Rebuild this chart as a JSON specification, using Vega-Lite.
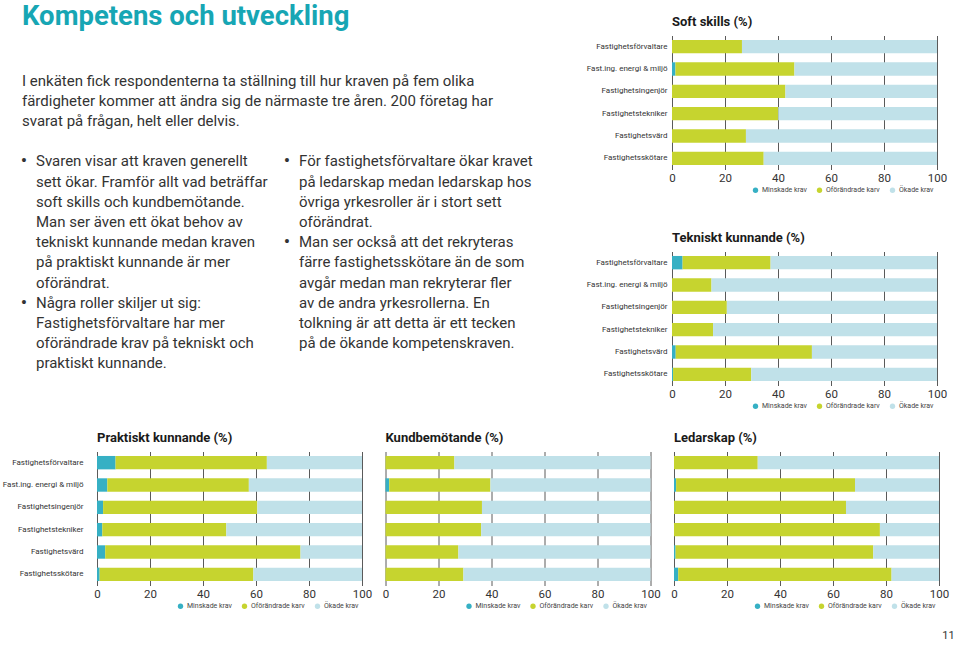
{
  "$schema": "https://vega.github.io/schema/vega-lite/v6.json",
  "padding": {"left": 2, "top": 2.5, "right": 0, "bottom": 0},
  "background": "white",
  "title": {"text": "11", "orient": "bottom", "anchor": "end", "frame": "bounds", "fontSize": 11, "fontWeight": "normal", "color": "#333333", "offset": 20, "dx": 6},
  "config": {
    "font": "Roboto",
    "view": {"stroke": null},
    "title": {"anchor": "start", "frame": "group", "fontSize": 13, "fontWeight": "bold", "color": "#1a1a1a", "offset": 7},
    "axisX": {"domain": false, "ticks": false, "grid": true, "gridColor": "#5a5a5a", "gridWidth": 1, "labelFontSize": 11.5, "labelColor": "#333333", "labelPadding": 3, "labelFlush": false, "title": null},
    "axisY": {"domain": false, "ticks": false, "grid": false, "labelFontSize": 8, "labelColor": "#333333", "title": null},
    "legend": {"direction": "horizontal", "title": null, "symbolType": "circle", "symbolSize": 28, "symbolStrokeWidth": 0, "labelFontSize": 7, "labelColor": "#444444", "columnPadding": 9, "labelOffset": 3, "padding": 0}
  },
  "datasets": {
    "bars": [
      {"c": "Soft skills", "r": "Fastighetsförvaltare", "k": "Minskade krav", "v": 0},
      {"c": "Soft skills", "r": "Fastighetsförvaltare", "k": "Oförändrade karv", "v": 26.4},
      {"c": "Soft skills", "r": "Fastighetsförvaltare", "k": "Ökade krav", "v": 73.6},
      {"c": "Soft skills", "r": "Fast.ing. energi & miljö", "k": "Minskade krav", "v": 1.3},
      {"c": "Soft skills", "r": "Fast.ing. energi & miljö", "k": "Oförändrade karv", "v": 44.9},
      {"c": "Soft skills", "r": "Fast.ing. energi & miljö", "k": "Ökade krav", "v": 53.8},
      {"c": "Soft skills", "r": "Fastighetsingenjör", "k": "Minskade krav", "v": 0},
      {"c": "Soft skills", "r": "Fastighetsingenjör", "k": "Oförändrade karv", "v": 42.8},
      {"c": "Soft skills", "r": "Fastighetsingenjör", "k": "Ökade krav", "v": 57.2},
      {"c": "Soft skills", "r": "Fastighetstekniker", "k": "Minskade krav", "v": 0},
      {"c": "Soft skills", "r": "Fastighetstekniker", "k": "Oförändrade karv", "v": 40.1},
      {"c": "Soft skills", "r": "Fastighetstekniker", "k": "Ökade krav", "v": 59.9},
      {"c": "Soft skills", "r": "Fastighetsvärd", "k": "Minskade krav", "v": 0},
      {"c": "Soft skills", "r": "Fastighetsvärd", "k": "Oförändrade karv", "v": 27.9},
      {"c": "Soft skills", "r": "Fastighetsvärd", "k": "Ökade krav", "v": 72.1},
      {"c": "Soft skills", "r": "Fastighetsskötare", "k": "Minskade krav", "v": 0},
      {"c": "Soft skills", "r": "Fastighetsskötare", "k": "Oförändrade karv", "v": 34.6},
      {"c": "Soft skills", "r": "Fastighetsskötare", "k": "Ökade krav", "v": 65.4},

      {"c": "Tekniskt", "r": "Fastighetsförvaltare", "k": "Minskade krav", "v": 4.0},
      {"c": "Tekniskt", "r": "Fastighetsförvaltare", "k": "Oförändrade karv", "v": 33.2},
      {"c": "Tekniskt", "r": "Fastighetsförvaltare", "k": "Ökade krav", "v": 62.8},
      {"c": "Tekniskt", "r": "Fast.ing. energi & miljö", "k": "Minskade krav", "v": 0},
      {"c": "Tekniskt", "r": "Fast.ing. energi & miljö", "k": "Oförändrade karv", "v": 14.9},
      {"c": "Tekniskt", "r": "Fast.ing. energi & miljö", "k": "Ökade krav", "v": 85.1},
      {"c": "Tekniskt", "r": "Fastighetsingenjör", "k": "Minskade krav", "v": 0},
      {"c": "Tekniskt", "r": "Fastighetsingenjör", "k": "Oförändrade karv", "v": 20.7},
      {"c": "Tekniskt", "r": "Fastighetsingenjör", "k": "Ökade krav", "v": 79.3},
      {"c": "Tekniskt", "r": "Fastighetstekniker", "k": "Minskade krav", "v": 0},
      {"c": "Tekniskt", "r": "Fastighetstekniker", "k": "Oförändrade karv", "v": 15.5},
      {"c": "Tekniskt", "r": "Fastighetstekniker", "k": "Ökade krav", "v": 84.5},
      {"c": "Tekniskt", "r": "Fastighetsvärd", "k": "Minskade krav", "v": 1.4},
      {"c": "Tekniskt", "r": "Fastighetsvärd", "k": "Oförändrade karv", "v": 51.4},
      {"c": "Tekniskt", "r": "Fastighetsvärd", "k": "Ökade krav", "v": 47.2},
      {"c": "Tekniskt", "r": "Fastighetsskötare", "k": "Minskade krav", "v": 0.4},
      {"c": "Tekniskt", "r": "Fastighetsskötare", "k": "Oförändrade karv", "v": 29.5},
      {"c": "Tekniskt", "r": "Fastighetsskötare", "k": "Ökade krav", "v": 70.1},

      {"c": "Praktiskt", "r": "Fastighetsförvaltare", "k": "Minskade krav", "v": 7.0},
      {"c": "Praktiskt", "r": "Fastighetsförvaltare", "k": "Oförändrade karv", "v": 57.1},
      {"c": "Praktiskt", "r": "Fastighetsförvaltare", "k": "Ökade krav", "v": 35.9},
      {"c": "Praktiskt", "r": "Fast.ing. energi & miljö", "k": "Minskade krav", "v": 3.9},
      {"c": "Praktiskt", "r": "Fast.ing. energi & miljö", "k": "Oförändrade karv", "v": 53.4},
      {"c": "Praktiskt", "r": "Fast.ing. energi & miljö", "k": "Ökade krav", "v": 42.7},
      {"c": "Praktiskt", "r": "Fastighetsingenjör", "k": "Minskade krav", "v": 2.3},
      {"c": "Praktiskt", "r": "Fastighetsingenjör", "k": "Oförändrade karv", "v": 58.2},
      {"c": "Praktiskt", "r": "Fastighetsingenjör", "k": "Ökade krav", "v": 39.5},
      {"c": "Praktiskt", "r": "Fastighetstekniker", "k": "Minskade krav", "v": 2.0},
      {"c": "Praktiskt", "r": "Fastighetstekniker", "k": "Oförändrade karv", "v": 46.8},
      {"c": "Praktiskt", "r": "Fastighetstekniker", "k": "Ökade krav", "v": 51.2},
      {"c": "Praktiskt", "r": "Fastighetsvärd", "k": "Minskade krav", "v": 3.1},
      {"c": "Praktiskt", "r": "Fastighetsvärd", "k": "Oförändrade karv", "v": 73.7},
      {"c": "Praktiskt", "r": "Fastighetsvärd", "k": "Ökade krav", "v": 23.2},
      {"c": "Praktiskt", "r": "Fastighetsskötare", "k": "Minskade krav", "v": 1.0},
      {"c": "Praktiskt", "r": "Fastighetsskötare", "k": "Oförändrade karv", "v": 58.0},
      {"c": "Praktiskt", "r": "Fastighetsskötare", "k": "Ökade krav", "v": 41.0},

      {"c": "Kund", "r": "Fastighetsförvaltare", "k": "Minskade krav", "v": 0},
      {"c": "Kund", "r": "Fastighetsförvaltare", "k": "Oförändrade karv", "v": 26.0},
      {"c": "Kund", "r": "Fastighetsförvaltare", "k": "Ökade krav", "v": 74.0},
      {"c": "Kund", "r": "Fast.ing. energi & miljö", "k": "Minskade krav", "v": 1.4},
      {"c": "Kund", "r": "Fast.ing. energi & miljö", "k": "Oförändrade karv", "v": 38.2},
      {"c": "Kund", "r": "Fast.ing. energi & miljö", "k": "Ökade krav", "v": 60.4},
      {"c": "Kund", "r": "Fastighetsingenjör", "k": "Minskade krav", "v": 0},
      {"c": "Kund", "r": "Fastighetsingenjör", "k": "Oförändrade karv", "v": 36.4},
      {"c": "Kund", "r": "Fastighetsingenjör", "k": "Ökade krav", "v": 63.6},
      {"c": "Kund", "r": "Fastighetstekniker", "k": "Minskade krav", "v": 0},
      {"c": "Kund", "r": "Fastighetstekniker", "k": "Oförändrade karv", "v": 36.1},
      {"c": "Kund", "r": "Fastighetstekniker", "k": "Ökade krav", "v": 63.9},
      {"c": "Kund", "r": "Fastighetsvärd", "k": "Minskade krav", "v": 0},
      {"c": "Kund", "r": "Fastighetsvärd", "k": "Oförändrade karv", "v": 27.5},
      {"c": "Kund", "r": "Fastighetsvärd", "k": "Ökade krav", "v": 72.5},
      {"c": "Kund", "r": "Fastighetsskötare", "k": "Minskade krav", "v": 0},
      {"c": "Kund", "r": "Fastighetsskötare", "k": "Oförändrade karv", "v": 29.4},
      {"c": "Kund", "r": "Fastighetsskötare", "k": "Ökade krav", "v": 70.6},

      {"c": "Ledarskap", "r": "Fastighetsförvaltare", "k": "Minskade krav", "v": 0},
      {"c": "Ledarskap", "r": "Fastighetsförvaltare", "k": "Oförändrade karv", "v": 31.6},
      {"c": "Ledarskap", "r": "Fastighetsförvaltare", "k": "Ökade krav", "v": 68.4},
      {"c": "Ledarskap", "r": "Fast.ing. energi & miljö", "k": "Minskade krav", "v": 0.8},
      {"c": "Ledarskap", "r": "Fast.ing. energi & miljö", "k": "Oförändrade karv", "v": 67.5},
      {"c": "Ledarskap", "r": "Fast.ing. energi & miljö", "k": "Ökade krav", "v": 31.7},
      {"c": "Ledarskap", "r": "Fastighetsingenjör", "k": "Minskade krav", "v": 0},
      {"c": "Ledarskap", "r": "Fastighetsingenjör", "k": "Oförändrade karv", "v": 64.9},
      {"c": "Ledarskap", "r": "Fastighetsingenjör", "k": "Ökade krav", "v": 35.1},
      {"c": "Ledarskap", "r": "Fastighetstekniker", "k": "Minskade krav", "v": 0},
      {"c": "Ledarskap", "r": "Fastighetstekniker", "k": "Oförändrade karv", "v": 77.7},
      {"c": "Ledarskap", "r": "Fastighetstekniker", "k": "Ökade krav", "v": 22.3},
      {"c": "Ledarskap", "r": "Fastighetsvärd", "k": "Minskade krav", "v": 0.6},
      {"c": "Ledarskap", "r": "Fastighetsvärd", "k": "Oförändrade karv", "v": 74.6},
      {"c": "Ledarskap", "r": "Fastighetsvärd", "k": "Ökade krav", "v": 24.8},
      {"c": "Ledarskap", "r": "Fastighetsskötare", "k": "Minskade krav", "v": 1.6},
      {"c": "Ledarskap", "r": "Fastighetsskötare", "k": "Oförändrade karv", "v": 80.5},
      {"c": "Ledarskap", "r": "Fastighetsskötare", "k": "Ökade krav", "v": 17.9}
    ],
    "text": [
      {"part": "title", "col": 0, "line": -3, "text": "Kompetens och utveckling"},
      {"part": "intro", "col": 0, "line": 0, "text": "I enkäten fick respondenterna ta ställning till hur kraven på fem olika"},
      {"part": "intro", "col": 0, "line": 1, "text": "färdigheter kommer att ändra sig de närmaste tre åren. 200 företag har"},
      {"part": "intro", "col": 0, "line": 2, "text": "svarat på frågan, helt eller delvis."},
      {"part": "bullet", "col": 0, "line": 4, "text": "•"},
      {"part": "bullet", "col": 0, "line": 11, "text": "•"},
      {"part": "bullet", "col": 1, "line": 4, "text": "•"},
      {"part": "bullet", "col": 1, "line": 8, "text": "•"},
      {"part": "body", "col": 0, "line": 4, "text": "Svaren visar att kraven generellt"},
      {"part": "body", "col": 0, "line": 5, "text": "sett ökar. Framför allt vad beträffar"},
      {"part": "body", "col": 0, "line": 6, "text": "soft skills och kundbemötande."},
      {"part": "body", "col": 0, "line": 7, "text": "Man ser även ett ökat behov av"},
      {"part": "body", "col": 0, "line": 8, "text": "tekniskt kunnande medan kraven"},
      {"part": "body", "col": 0, "line": 9, "text": "på praktiskt kunnande är mer"},
      {"part": "body", "col": 0, "line": 10, "text": "oförändrat."},
      {"part": "body", "col": 0, "line": 11, "text": "Några roller skiljer ut sig:"},
      {"part": "body", "col": 0, "line": 12, "text": "Fastighetsförvaltare har mer"},
      {"part": "body", "col": 0, "line": 13, "text": "oförändrade krav på tekniskt och"},
      {"part": "body", "col": 0, "line": 14, "text": "praktiskt kunnande."},
      {"part": "body", "col": 1, "line": 4, "text": "För fastighetsförvaltare ökar kravet"},
      {"part": "body", "col": 1, "line": 5, "text": "på ledarskap medan ledarskap hos"},
      {"part": "body", "col": 1, "line": 6, "text": "övriga yrkesroller är i stort sett"},
      {"part": "body", "col": 1, "line": 7, "text": "oförändrat."},
      {"part": "body", "col": 1, "line": 8, "text": "Man ser också att det rekryteras"},
      {"part": "body", "col": 1, "line": 9, "text": "färre fastighetsskötare än de som"},
      {"part": "body", "col": 1, "line": 10, "text": "avgår medan man rekryterar fler"},
      {"part": "body", "col": 1, "line": 11, "text": "av de andra yrkesrollerna. En"},
      {"part": "body", "col": 1, "line": 12, "text": "tolkning är att detta är ett tecken"},
      {"part": "body", "col": 1, "line": 13, "text": "på de ökande kompetenskraven."}
    ]
  },
  "spacing": 22,
  "resolve": {"legend": {"color": "independent"}},
  "vconcat": [
    {
      "spacing": 9,
      "resolve": {"legend": {"color": "independent"}},
      "hconcat": [
        {
          "width": 480,
          "height": 345,
          "data": {"name": "text"},
          "encoding": {
            "x": {"field": "col", "type": "quantitative", "scale": {"domain": [0, 1], "range": [-75, 188], "nice": false, "zero": false}, "axis": null},
            "y": {"field": "line", "type": "quantitative", "scale": {"domain": [0, 14], "range": [45, 327.8], "nice": false, "zero": false}, "axis": null},
            "text": {"field": "text"}
          },
          "layer": [
            {"transform": [{"filter": "datum.part === 'title'"}], "mark": {"type": "text", "align": "left", "baseline": "middle", "fontSize": 27.5, "fontWeight": "bold", "color": "#17a6b4", "dy": -2.5}},
            {"transform": [{"filter": "datum.part === 'intro'"}], "mark": {"type": "text", "align": "left", "baseline": "middle", "fontSize": 15, "color": "#333333"}},
            {"transform": [{"filter": "datum.part === 'bullet'"}], "mark": {"type": "text", "align": "center", "baseline": "middle", "fontSize": 19, "color": "#333333", "dx": 2}},
            {"transform": [{"filter": "datum.part === 'body'"}], "mark": {"type": "text", "align": "left", "baseline": "middle", "fontSize": 15, "color": "#333333", "dx": 14}}
          ]
        },
        {
          "spacing": 38,
          "resolve": {"legend": {"color": "independent"}},
          "vconcat": [
            {
              "title": "Soft skills (%)",
              "width": 265, "height": 134,
              "data": {"name": "bars"},
              "transform": [{"filter": "datum.c === 'Soft skills'"}],
              "mark": {"type": "bar"},
              "encoding": {
                "y": {"field": "r", "type": "nominal", "sort": ["Fastighetsförvaltare", "Fast.ing. energi & miljö", "Fastighetsingenjör", "Fastighetstekniker", "Fastighetsvärd", "Fastighetsskötare"], "scale": {"paddingInner": 0.4, "paddingOuter": 0.2}, "axis": {"labelPadding": 5}},
                "x": {"field": "v", "type": "quantitative", "stack": "zero", "scale": {"domain": [0, 100], "nice": false}, "axis": {"values": [0, 20, 40, 60, 80, 100]}},
                "color": {"field": "k", "type": "nominal", "scale": {"domain": ["Minskade krav", "Oförändrade karv", "Ökade krav"], "range": ["#36b0c4", "#c6d42f", "#c0e1e9"]}, "legend": {"orient": "none", "legendX": 80, "legendY": 151}}
              }
            },
            {
              "title": "Tekniskt kunnande (%)",
              "width": 265, "height": 134,
              "data": {"name": "bars"},
              "transform": [{"filter": "datum.c === 'Tekniskt'"}],
              "mark": {"type": "bar"},
              "encoding": {
                "y": {"field": "r", "type": "nominal", "sort": ["Fastighetsförvaltare", "Fast.ing. energi & miljö", "Fastighetsingenjör", "Fastighetstekniker", "Fastighetsvärd", "Fastighetsskötare"], "scale": {"paddingInner": 0.4, "paddingOuter": 0.2}, "axis": {"labelPadding": 5}},
                "x": {"field": "v", "type": "quantitative", "stack": "zero", "scale": {"domain": [0, 100], "nice": false}, "axis": {"values": [0, 20, 40, 60, 80, 100]}},
                "color": {"field": "k", "type": "nominal", "scale": {"domain": ["Minskade krav", "Oförändrade karv", "Ökade krav"], "range": ["#36b0c4", "#c6d42f", "#c0e1e9"]}, "legend": {"orient": "none", "legendX": 80, "legendY": 151}}
              }
            }
          ]
        }
      ]
    },
    {
      "spacing": 9.5,
      "resolve": {"legend": {"color": "independent"}},
      "hconcat": [
        {
          "title": "Praktiskt kunnande (%)",
          "width": 265, "height": 134,
          "data": {"name": "bars"},
          "transform": [{"filter": "datum.c === 'Praktiskt'"}],
          "mark": {"type": "bar"},
          "encoding": {
            "y": {"field": "r", "type": "nominal", "sort": ["Fastighetsförvaltare", "Fast.ing. energi & miljö", "Fastighetsingenjör", "Fastighetstekniker", "Fastighetsvärd", "Fastighetsskötare"], "scale": {"paddingInner": 0.4, "paddingOuter": 0.2}, "axis": {"labelPadding": 14}},
            "x": {"field": "v", "type": "quantitative", "stack": "zero", "scale": {"domain": [0, 100], "nice": false}, "axis": {"values": [0, 20, 40, 60, 80, 100]}},
            "color": {"field": "k", "type": "nominal", "scale": {"domain": ["Minskade krav", "Oförändrade karv", "Ökade krav"], "range": ["#36b0c4", "#c6d42f", "#c0e1e9"]}, "legend": {"orient": "none", "legendX": 80, "legendY": 151}}
          }
        },
        {
          "title": "Kundbemötande (%)",
          "width": 265, "height": 134,
          "data": {"name": "bars"},
          "transform": [{"filter": "datum.c === 'Kund'"}],
          "mark": {"type": "bar"},
          "encoding": {
            "y": {"field": "r", "type": "nominal", "sort": ["Fastighetsförvaltare", "Fast.ing. energi & miljö", "Fastighetsingenjör", "Fastighetstekniker", "Fastighetsvärd", "Fastighetsskötare"], "scale": {"paddingInner": 0.4, "paddingOuter": 0.2}, "axis": null},
            "x": {"field": "v", "type": "quantitative", "stack": "zero", "scale": {"domain": [0, 100], "nice": false}, "axis": {"values": [0, 20, 40, 60, 80, 100]}},
            "color": {"field": "k", "type": "nominal", "scale": {"domain": ["Minskade krav", "Oförändrade karv", "Ökade krav"], "range": ["#36b0c4", "#c6d42f", "#c0e1e9"]}, "legend": {"orient": "none", "legendX": 80, "legendY": 151}}
          }
        },
        {
          "title": "Ledarskap (%)",
          "width": 265, "height": 134,
          "data": {"name": "bars"},
          "transform": [{"filter": "datum.c === 'Ledarskap'"}],
          "mark": {"type": "bar"},
          "encoding": {
            "y": {"field": "r", "type": "nominal", "sort": ["Fastighetsförvaltare", "Fast.ing. energi & miljö", "Fastighetsingenjör", "Fastighetstekniker", "Fastighetsvärd", "Fastighetsskötare"], "scale": {"paddingInner": 0.4, "paddingOuter": 0.2}, "axis": null},
            "x": {"field": "v", "type": "quantitative", "stack": "zero", "scale": {"domain": [0, 100], "nice": false}, "axis": {"values": [0, 20, 40, 60, 80, 100]}},
            "color": {"field": "k", "type": "nominal", "scale": {"domain": ["Minskade krav", "Oförändrade karv", "Ökade krav"], "range": ["#36b0c4", "#c6d42f", "#c0e1e9"]}, "legend": {"orient": "none", "legendX": 80, "legendY": 151}}
          }
        }
      ]
    }
  ]
}
